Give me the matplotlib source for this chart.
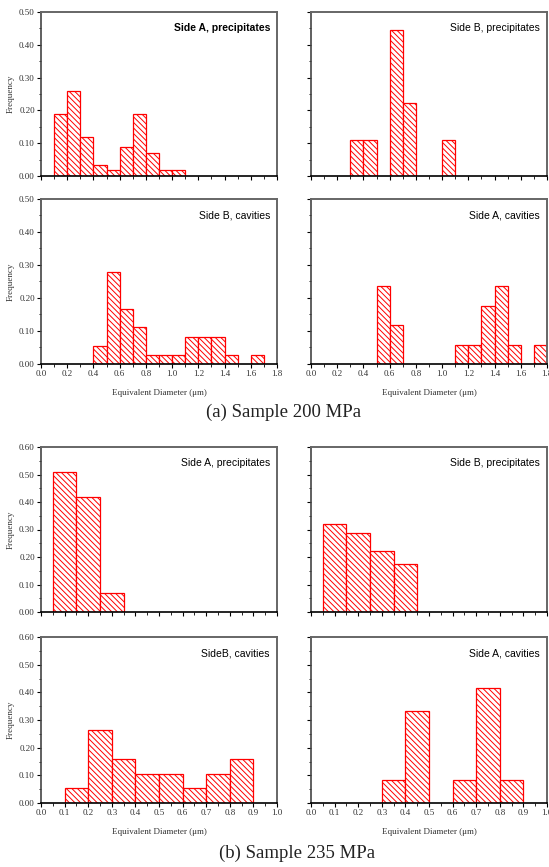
import numpy as np
import matplotlib
matplotlib.use("Agg")
from matplotlib import pyplot as plt

# ---- data: sample 200 MPa (bins of 0.1, left edges) ----
a_prec_left = [0.1, 0.2, 0.3, 0.4, 0.5, 0.6, 0.7, 0.8, 0.9, 1.0]
a_prec_freq = [0.19, 0.26, 0.12, 0.035, 0.018, 0.087, 0.19, 0.07, 0.018, 0.018]

b_prec_left = [0.3, 0.4, 0.6, 0.7, 1.0]
b_prec_freq = [0.111, 0.111, 0.444, 0.222, 0.111]

b_cav_left = [0.4, 0.5, 0.6, 0.7, 0.8, 0.9, 1.0, 1.1, 1.2, 1.3, 1.4, 1.6]
b_cav_freq = [0.056, 0.278, 0.167, 0.111, 0.028, 0.028, 0.028, 0.083, 0.083, 0.083, 0.028, 0.028]

a_cav_left = [0.5, 0.6, 1.1, 1.2, 1.3, 1.4, 1.5, 1.7]
a_cav_freq = [0.235, 0.118, 0.059, 0.059, 0.176, 0.235, 0.059, 0.059]

# ---- data: sample 235 MPa (bin centres) ----
a_prec2_mid = [0.1, 0.2, 0.3]
a_prec2_freq = [0.51, 0.42, 0.07]

b_prec2_mid = [0.1, 0.2, 0.3, 0.4]
b_prec2_freq = [0.319, 0.286, 0.221, 0.174]

b_cav2_mid = [0.15, 0.25, 0.35, 0.45, 0.55, 0.65, 0.75, 0.85]
b_cav2_freq = [0.053, 0.263, 0.158, 0.105, 0.105, 0.053, 0.105, 0.158]

a_cav2_mid = [0.35, 0.45, 0.65, 0.75, 0.85]
a_cav2_freq = [0.083, 0.333, 0.083, 0.417, 0.083]

W, H = 549, 867
SERIF = ["Liberation Serif", "DejaVu Serif"]
SANS = ["Liberation Sans", "DejaVu Sans"]
plt.rcParams["hatch.linewidth"] = 0.7


def rect(l, r, t, b):
    return [l / W, 1 - b / H, (r - l) / W, (b - t) / H]


fig = plt.figure(figsize=(W / 100, H / 100), dpi=100)


def panel(box, x, y, align, title, xmax, ymax, xmaj, ylabels, xlabels, bold=False):
    ax = fig.add_axes(rect(*box))
    ax.bar(x, y, width=0.1, align=align, facecolor="white", edgecolor="red",
           hatch="\\\\\\\\\\\\", linewidth=0.9)
    ax.set_xlim(0, xmax)
    ax.set_ylim(0, ymax)
    ax.set_xticks(np.arange(0, xmax + 1e-9, xmaj))
    ax.set_xticks(np.arange(0, xmax + 1e-9, xmaj / 2), minor=True)
    ax.set_yticks(np.arange(0, ymax + 1e-9, 0.1))
    ax.set_yticks(np.arange(0, ymax + 1e-9, 0.05), minor=True)
    ax.tick_params(which="major", direction="out", length=3, width=0.8, labelsize=6.5, pad=1.5)
    ax.tick_params(which="minor", direction="out", length=1.8, width=0.6)
    for lab in ax.get_xticklabels() + ax.get_yticklabels():
        lab.set_family(SERIF)
        lab.set_color("#333333")
    if ylabels:
        ax.yaxis.set_major_formatter(matplotlib.ticker.FormatStrFormatter("%.2f"))
        ax.set_ylabel("Frequency", family=SERIF, fontsize=6.5, labelpad=3, color="#333333")
    else:
        ax.set_yticklabels([])
    if xlabels:
        ax.xaxis.set_major_formatter(matplotlib.ticker.FormatStrFormatter("%.1f"))
        ax.set_xlabel("Equivalent Diameter (\u03bcm)", family=SERIF, fontsize=6.5,
                      labelpad=8, color="#333333")
    else:
        ax.set_xticklabels([])
    ax.spines["left"].set_color("#444444")
    ax.spines["left"].set_linewidth(1.2)
    ax.spines["bottom"].set_color("black")
    ax.spines["bottom"].set_linewidth(1.2)
    for s in ("top", "right"):
        ax.spines[s].set_color("#666666")
        ax.spines[s].set_linewidth(1.4)
    ax.text(0.97, 0.9, title, transform=ax.transAxes, ha="right", va="center",
            family=SANS, fontsize=7.5, fontweight="bold" if bold else "normal")
    return ax


L = (41, 277)
R = (311, 547)

panel((*L, 12, 176), a_prec_left, a_prec_freq, "edge", "Side A, precipitates",
      1.8, 0.5, 0.2, True, False, bold=True)
panel((*R, 12, 176), b_prec_left, b_prec_freq, "edge", "Side B, precipitates",
      1.8, 0.5, 0.2, False, False)
panel((*L, 199, 364), b_cav_left, b_cav_freq, "edge", "Side B, cavities",
      1.8, 0.5, 0.2, True, True)
panel((*R, 199, 364), a_cav_left, a_cav_freq, "edge", "Side A, cavities",
      1.8, 0.5, 0.2, False, True)

panel((*L, 447, 612), a_prec2_mid, a_prec2_freq, "center", "Side A, precipitates",
      1.0, 0.6, 0.1, True, False)
panel((*R, 447, 612), b_prec2_mid, b_prec2_freq, "center", "Side B, precipitates",
      1.0, 0.6, 0.1, False, False)
panel((*L, 637, 803), b_cav2_mid, b_cav2_freq, "center", "SideB, cavities",
      1.0, 0.6, 0.1, True, True)
panel((*R, 637, 803), a_cav2_mid, a_cav2_freq, "center", "Side A, cavities",
      1.0, 0.6, 0.1, False, True)

fig.text(284 / W, 1 - 412 / H, "(a) Sample 200 MPa", ha="center", va="center",
         family=SERIF, fontsize=13.5, color="#222222")
fig.text(297 / W, 1 - 853 / H, "(b) Sample 235 MPa", ha="center", va="center",
         family=SERIF, fontsize=13.5, color="#222222")

fig.savefig("out.png", dpi=100)
